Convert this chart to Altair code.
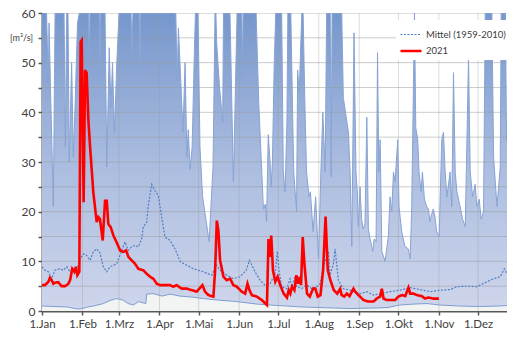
import altair as alt
import pandas as pd

# ---------------- data ----------------
# day of year (0 = 1.Jan) and discharge in m3/s
max_day = [0,3.5,4.8,5.4,6.5,8.7,10,16.9,17.9,18.9,19.9,20.9,22.7,24,25.3,27.2,28.6,35.7,36.2,36.7,
           43.9,44.4,44.9,48.3,49.6,51.5,52.8,54,55.5,57.3,59,68.2,68.9,69.6,74.5,75,75.5,102.5,103.5,104.5,
           106,108,109.6,111,112,113.5,115,116.5,117.5,119.5,121,123,128,131,132.5,133.2,133.8,136,138.4,139,
           144,146.6,149.4,153,153.5,154,164,166,169.6,171,172,173.3,174.7,175.5,176.5,177.8,179,183.6,184.8,186.2,
           187.6,188.3,190.6,192.8,195,195.8,197,199,200,201.3,202.6,204.6,205.6,207.6,209.6,211.8,213.6,215.1,216.9,218,
           220.8,221.5,222.2,229.6,230.8,234.7,236,237.3,239,240.5,241.5,242.3,243.6,244.8,246,247.4,248.8,250,251.3,253.4,
           254.4,255.9,257,258,259,260.3,262.8,265.3,266.6,267.9,269.2,270.4,272.5,273.5,275.5,278,280.6,282,283.2,285.3,
           286.3,287.8,288.8,290.4,291.4,292.9,294.7,296,297.2,298.5,299.7,301,302.3,304.2,306.2,307.5,308.8,310.1,312.6,313.9,
           315.2,316.5,317.8,320.3,322.1,324.2,326.7,328,329.8,331.8,333.1,334.9,336.4,338.2,339.5,344.6,345.9,348.5,351,351.7,
           355,355.8,358.6,361.1,362.5]
max_val = [60,60,46,58,45,21,60,60,33,60,60,30,50,31,41,58,60,60,50,60,
           60,48,60,60,29,53,41,50,36,50,60,60,52,60,60,48.5,60,60,46.5,57,
           48,36,50,31,36.5,28.5,33,50,60,60,33,23,14,29,60,60,54,45,38,60,
           60,26,60,60,47,60,60,42,20.5,21.5,18,35.5,30,25,30,49,60,60,28,24,
           38,60,60,28,20,48.5,44,60,60,42.5,28,23,24,16,23,10.5,28,40,28,60,
           60,27,60,60,43,36,28,13,56,28,24,17,25,18.5,16.5,17.5,39,16.5,14.5,12,
           14.5,14,52,28,34.5,12,10,15,23,20,28,26,34.5,21,16,13,12.5,10.5,21,60,
           37,34.5,28,24,28,22.5,21,20.5,18,19.5,20.5,19,16,15,34.5,36,28,23,28,21,
           48,28,24,21,18.5,17,51,28,23,25.5,21,22.5,18.5,20,60,60,31,21,29,60,
           60,34.5,56,28,21]

min_day = [0,10,20,25,29,35,39.3,47,52,57,62,66,70,74,79.5,80.2,85,92,98,105.7,
           115,123.6,135,149,164.5,175,187.5,200,213,236,255,265,274,285,294.8,305,320,335,350,362.5]
min_val = [1.0,0.9,0.8,0.5,0.4,0.8,1.0,1.5,2.1,2.5,2.2,1.5,1.2,1.9,1.5,3.4,3.5,3.0,3.4,3.0,
           2.8,2.5,2.2,1.9,1.4,1.2,1.0,0.8,0.7,0.5,0.6,0.7,1.2,1.4,1.5,1.2,1.0,0.9,1.0,1.2]

mean_day = [0,2.3,4.9,7.4,9.9,13.8,16.3,18.9,21.5,24,26.6,29.1,31.7,34.2,36.8,39.3,41.9,44.4,47,49.5,
            52.1,54.6,57.2,59.7,61.5,63.6,66.1,68.7,71.2,73.8,76.3,77.6,80.2,81.4,84,86.6,89.1,91.7,94.2,98.1,
            101.9,105.8,110.9,116,123.6,130,133.8,136.4,141.5,146.6,151.7,156.3,158.9,161.4,164,167,170.8,174.7,178.5,180.3,
            181.5,183.6,187.5,190,191.3,193.8,195.1,198.9,202.7,206.6,210.4,213,215.5,218.1,219.4,220.6,223.2,224.5,227,230.9,
            236,243.7,248.8,253.9,266.7,274.4,282,289.7,297.4,305,312.7,317.8,325.5,333.2,340.8,345.9,351,354.1,356.1,358.7,362.5]
mean_val = [8.9,8.2,7.9,6.5,8.2,8.5,8.2,8.9,7.9,8.5,8.2,10.5,11.5,11.2,10.2,11.9,12.5,11.7,8.9,7.9,
            8.9,9.2,9.5,11.2,12.5,13.9,12.2,12.9,13.2,12.9,14.5,16.9,17.9,21.2,25.5,24.2,23.2,18.9,14.9,14.2,
            12.5,10,9.2,8.5,7.9,7.2,9.2,8.2,7.2,6.5,6.9,8.2,10.2,8.9,7.5,6.2,5.2,5.5,7.5,12,
            8.2,4.9,4.5,6.5,4.9,6.9,4.9,4.5,5.2,4.5,4.9,5.5,8.9,10.9,12,7.2,9.5,12.5,6.2,4.5,
            4.2,3.5,3.9,3.2,3.9,4.2,4.7,4.3,3.9,4.2,4.3,4.9,5.0,4.9,5.9,6.5,6.9,8.5,7.5,7.9,6.2]

y2021_day = [0,2.3,4.9,6.1,7.4,8.7,9.9,12.5,15,17.6,18.9,20.2,21.5,23.2,24.8,26,27.1,28.6,29.6,30.4,
             31.9,33,34.2,35.5,36.8,39.3,41.9,43.2,44.4,46.5,48.3,49.6,50.8,52.6,54.7,57.7,59.8,62.3,64.4,66.2,
             68.7,71.3,73.8,77.6,80.2,82.8,85.3,87.9,90.4,94,98,100.6,103.1,107,110.9,114.7,118.5,122.9,124.9,127.5,
             131.3,132.6,133.9,135.1,136.4,139,141.5,144.1,146.6,149.2,153,155.6,157.4,158.9,160.7,164.5,168.4,172.3,173.5,174.8,
             175.6,176.9,178.7,180.5,182.5,185.1,187.6,189,190.2,191.5,193.3,194.8,196.1,197.4,198.4,199.7,201,203,205.1,207.6,
             209.4,211.2,213.3,215.3,217.2,218.9,220.9,223.5,226.1,228.4,229.5,231.5,233.5,235.5,238.6,239.9,242.4,246.3,250,253.9,
             256.4,259,260.3,261.6,264.2,268,270.5,273,275.6,278.2,280.7,282,284.6,287.1,290.9,293.4,296,299.8,304]
y2021_val = [5.2,5.2,5.9,6.7,6.2,5.5,5.7,5.8,5.0,5.0,5.2,5.5,6.2,8.5,7.9,8.9,7.2,7.9,54.2,54.5,
             21.9,48.5,47.9,38.5,33.2,23.9,17.9,18.9,18.5,14.2,22.2,22.2,17.5,16.9,15.2,13.5,12.2,11.9,12.2,10.9,
             10.2,9.5,8.5,8.2,7.5,6.9,6.5,5.5,5.2,5.2,5.2,4.9,5.2,4.5,4.5,4.2,3.9,5.2,3.9,3.2,
             2.9,8.2,18.2,16.2,10.2,6.9,6.2,6.5,5.2,4.9,3.9,3.5,5.5,4.2,3.2,2.9,2.2,1.2,14.5,10.9,
             15.2,8.2,5.9,6.9,5.2,3.5,2.7,4.2,3.5,4.9,4.2,7.2,5.5,6.9,5.2,14.9,9.5,3.5,2.9,4.5,
             4.5,2.9,3.2,8.2,19,8.2,6.2,4.2,3.5,4.5,3.2,2.9,3.5,3.0,4.5,3.9,3.2,2.2,1.9,1.9,
             2.5,2.9,4.5,2.5,2.2,2.2,2.2,2.9,3.2,3.0,4.7,3.5,3.5,3.2,3.0,2.5,2.7,2.5,2.5]

month_start = [0, 31, 59, 90, 120, 151, 181, 212, 243, 273, 304, 334]
month_label = ["1.Jan", "1.Feb", "1.Mrz", "1.Apr", "1.Mai", "1.Jun", "1.Jul",
               "1.Aug", "1.Sep", "1.Okt", "1.Nov", "1.Dez"]
y_grid = [5, 10, 15, 20, 25, 30, 35, 40, 45, 50, 55]
series_names = ["Mittel (1959-2010)", "2021"]

# ---------------- frames ----------------
df_max = pd.DataFrame({"day": max_day, "q": max_val})
df_min = pd.DataFrame({"day": min_day, "q": min_val})
df_mean = pd.DataFrame({"day": mean_day, "q": mean_val, "series": series_names[0]})
df_2021 = pd.DataFrame({"day": y2021_day, "q": y2021_val, "series": series_names[1]})
df_hg = pd.DataFrame({"q": y_grid})
df_vg = pd.DataFrame({"day": month_start[1:]})

FONT = "Lato"
BG = "#f2f3f3"
H = 298

label_expr = "[" + ",".join(f"'{m}'" for m in month_label) + "][indexof([" + \
    ",".join(str(d) for d in month_start) + "], datum.value)]"

xscale = alt.Scale(domain=[0, 362.3], nice=False, zero=False)
yscale = alt.Scale(domain=[0, 60], nice=False)

xaxis = alt.Axis(values=month_start, labelExpr=label_expr, title=None, grid=False,
                 tickSize=4, tickColor="#595959", tickWidth=1.5,
                 domainColor="#595959", domainWidth=2, labelPadding=3,
                 labelFontSize=11.5, labelColor="#404040", labelFont=FONT,
                 labelFlush=False, labelOverlap=False)
yaxis = alt.Axis(values=list(range(0, 61, 5)),
                 labelExpr="datum.value % 10 == 0 ? datum.label : ''",
                 title="[m³/s]", titleAngle=0, titleX=-21, titleY=H * 5 / 60,
                 titleAlign="center", titleBaseline="middle", titleFontSize=9,
                 titleFontWeight="normal", titleColor="#404040", titleFont=FONT,
                 grid=False, tickSize=4, tickColor="#595959", tickWidth=1.5,
                 domainColor="#595959", domainWidth=2, labelPadding=3,
                 labelFontSize=12, labelColor="#404040", labelFont=FONT)

x = alt.X("day:Q", scale=xscale, axis=xaxis)
y = alt.Y("q:Q", scale=yscale, axis=yaxis)

grad = alt.Gradient(gradient="linear",
                    stops=[alt.GradientStop(color="#7697cc", offset=0),
                           alt.GradientStop(color="#aabcdf", offset=0.5),
                           alt.GradientStop(color="#cfd6ec", offset=1)],
                    x1=1, x2=1, y1=0, y2=1)

max_area = alt.Chart(df_max).mark_area(color=grad, clip=True).encode(x=x, y=y)
min_area = alt.Chart(df_min).mark_area(color=BG, clip=True).encode(x=x, y=y)
hgrid = alt.Chart(df_hg).mark_rule(color="#9a9a9a", opacity=0.5, strokeWidth=1).encode(y=y)
vgrid = alt.Chart(df_vg).mark_rule(color="#9a9a9a", opacity=0.35, strokeWidth=1).encode(x=x)
max_line = alt.Chart(df_max).mark_line(color="#87a3d4", strokeWidth=1, clip=True).encode(x=x, y=y)
min_line = alt.Chart(df_min).mark_line(color="#7f9dd0", strokeWidth=1, clip=True).encode(x=x, y=y)

leg = alt.Legend(title=None, orient="none", legendX=354, legendY=7,
                 fillColor="white", padding=3, symbolType="stroke", symbolSize=441,
                 labelFontSize=9.5, labelColor="#404040", labelFont=FONT,
                 labelOffset=3, rowPadding=-5)
color = alt.Color("series:N", scale=alt.Scale(domain=series_names, range=["#4f7fc0", "#ff0000"]), legend=leg)
dash = alt.StrokeDash("series:N", scale=alt.Scale(domain=series_names, range=[[2, 1.5], [1, 0]]), legend=leg)
width = alt.StrokeWidth("series:N", scale=alt.Scale(domain=series_names, range=[1.2, 2.6]), legend=leg)

mean_line = alt.Chart(df_mean).mark_line(clip=True).encode(x=x, y=y, color=color, strokeDash=dash, strokeWidth=width)
red_line = alt.Chart(df_2021).mark_line(clip=True).encode(x=x, y=y, color=color, strokeDash=dash, strokeWidth=width)

chart = alt.layer(max_area, min_area, hgrid, vgrid, max_line, min_line, mean_line, red_line).properties(
    width=473, height=H,
    padding={"left": 34, "top": 5, "right": -8, "bottom": 19},
    autosize=alt.AutoSizeParams(type="none"),
).configure_view(fill=BG, stroke="#8c8c8c", strokeWidth=1).configure(background="white")

chart.save("out.html", embed_options={"renderer": "svg", "actions": False})
